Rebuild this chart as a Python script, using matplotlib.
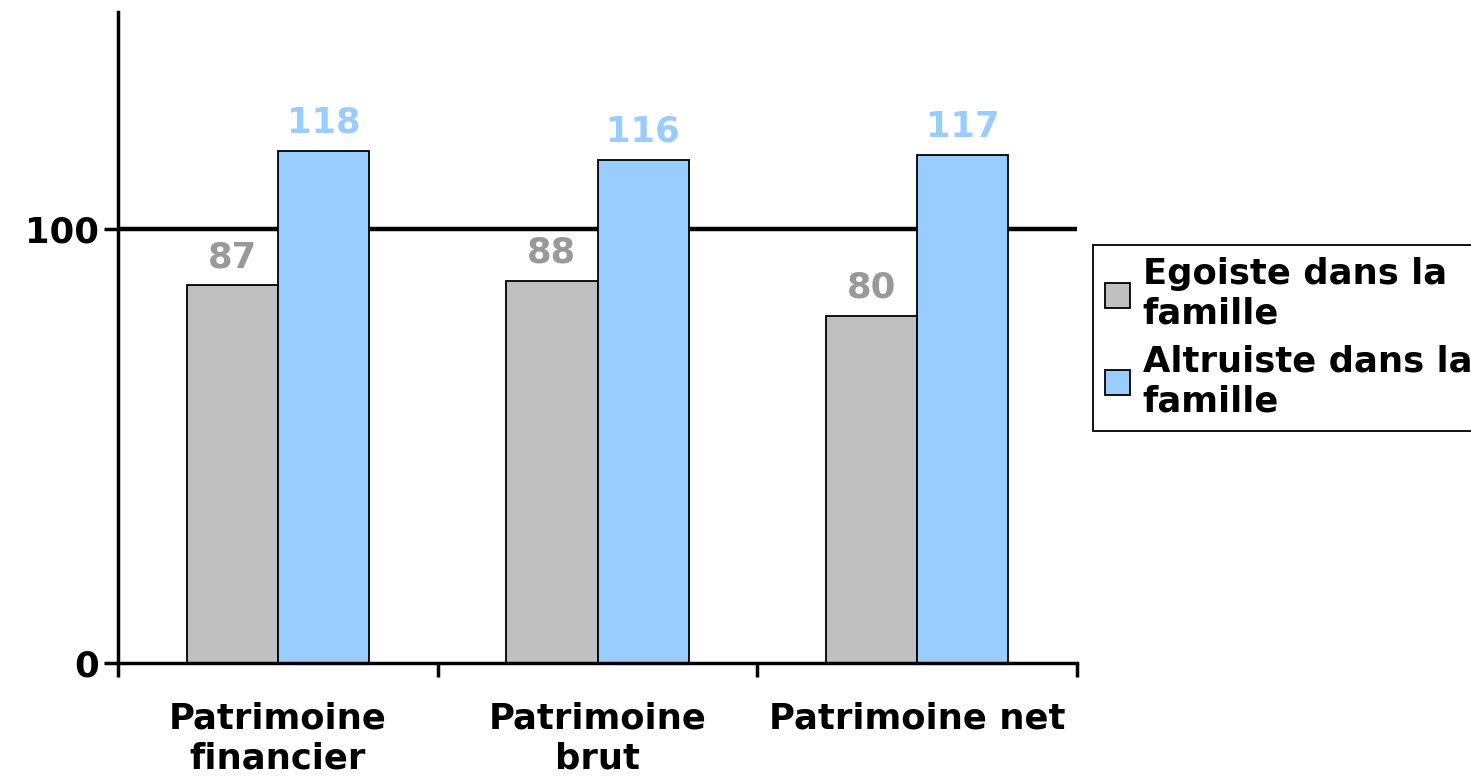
import matplotlib
matplotlib.use("Agg")
import matplotlib.pyplot as plt
from matplotlib.patches import Patch
import numpy as np

categories = ["Patrimoine\nfinancier", "Patrimoine\nbrut", "Patrimoine net"]
egoiste = [87, 88, 80]
altruiste = [118, 116, 117]
series_names = ["Egoiste dans la\nfamille", "Altruiste dans la\nfamille"]
gray = "#C0C0C0"
blue = "#99CCFF"
fs = 25.5

plt.rcParams['font.family'] = ['DejaVu Sans']
plt.rcParams['font.weight'] = 'bold'

fig = plt.figure(figsize=(14.71, 7.79), dpi=100)
ax = fig.add_axes([118/1471, 1-663/779, (1077-118)/1471, (663-12)/779])

x = np.arange(len(categories))
w = 0.285
ax.axhline(100, color="black", lw=3.2, zorder=1)
b1 = ax.bar(x - w/2, egoiste, w, color=gray, edgecolor="black", lw=1.3, zorder=2)
b2 = ax.bar(x + w/2, altruiste, w, color=blue, edgecolor="black", lw=1.3, zorder=2)

for bars, vals, col in [(b1, egoiste, "#999999"), (b2, altruiste, blue)]:
    for r, v in zip(bars, vals):
        ax.annotate(str(v), (r.get_x() + r.get_width()/2, v), xytext=(0, 8),
                    textcoords="offset points", ha="center", va="bottom",
                    fontsize=fs, fontweight="bold", color=col)

ax.set_xlim(-0.5, 2.5)
ax.set_ylim(0, 150)
ax.set_yticks([0, 100])
ax.set_yticklabels(["0", "100"], fontsize=fs, fontweight="bold")
ax.set_xticks([-0.5, 0.5, 1.5, 2.5])
ax.set_xticklabels([])
ax.set_xticks(x, minor=True)
ax.set_xticklabels(categories, minor=True, fontsize=fs, fontweight="bold", linespacing=1.2)
ax.tick_params(axis="x", which="minor", length=0, pad=28)
ax.tick_params(axis="x", which="major", length=10, width=2.5, direction="out")
ax.tick_params(axis="y", length=10, width=2.5, direction="out", pad=4)

for s in ["top", "right"]:
    ax.spines[s].set_visible(False)
for s in ["left", "bottom"]:
    ax.spines[s].set_linewidth(2.5)

handles = [Patch(facecolor=gray, edgecolor="black", lw=1.3),
           Patch(facecolor=blue, edgecolor="black", lw=1.3)]
leg = fig.legend(handles, series_names, loc="upper left",
                 bbox_to_anchor=(1093/1471, 1-245/779),
                 prop={"size": fs, "weight": "bold"},
                 frameon=True, fancybox=False, edgecolor="black", framealpha=1,
                 handlelength=0.7, handleheight=0.7, handletextpad=0.35,
                 borderpad=0.35, labelspacing=0.4, borderaxespad=0)
leg.get_frame().set_linewidth(1.3)

fig.savefig("out.png", dpi=100)
